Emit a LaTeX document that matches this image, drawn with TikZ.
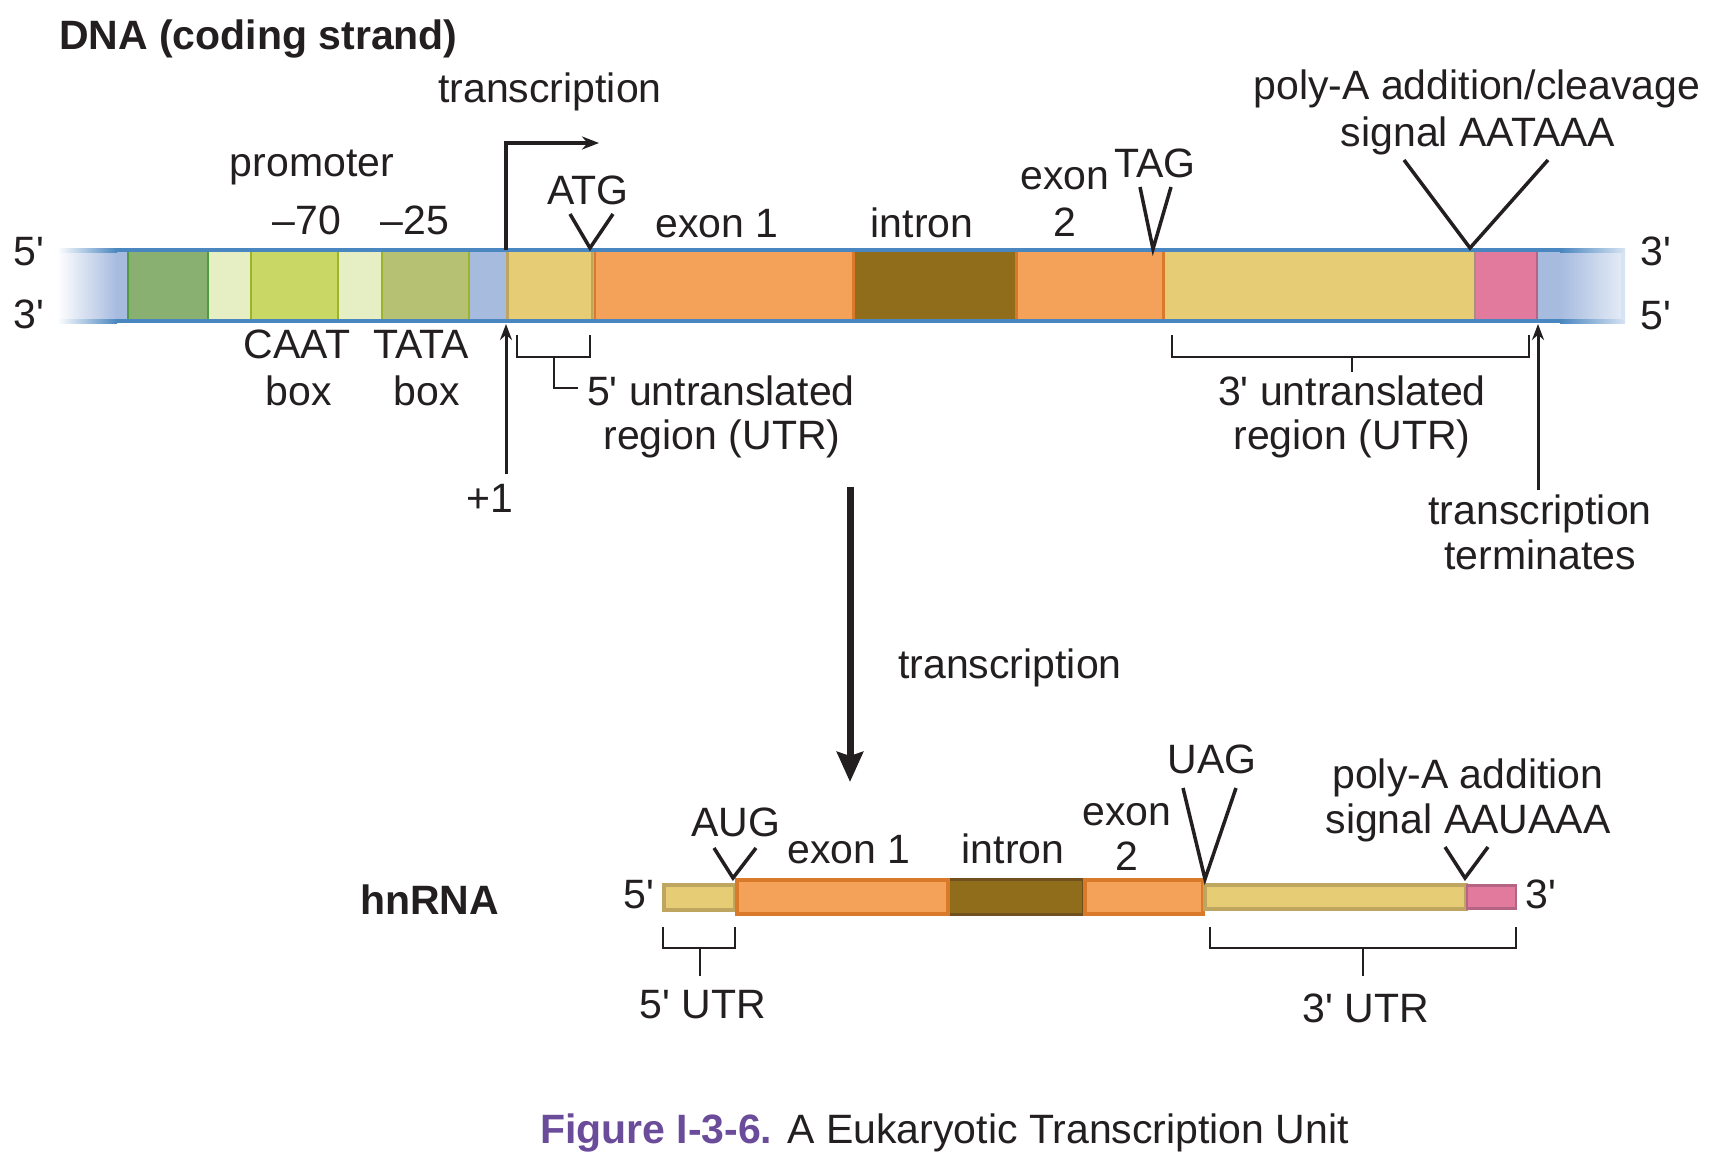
\documentclass[tikz,border=0pt]{standalone}
\usepackage{fontspec}
\setmainfont{Liberation Sans}
\usetikzlibrary{arrows.meta}
\definecolor{txt}{RGB}{35,31,32}
\definecolor{dnablue}{RGB}{167,187,223}
\definecolor{strand}{RGB}{74,134,192}
\definecolor{dnalight}{RGB}{230,237,246}
\definecolor{rimblue}{RGB}{214,227,242}
\definecolor{dkgreen}{RGB}{137,175,113}
\definecolor{dkgreenb}{RGB}{80,155,60}
\definecolor{ltgreen}{RGB}{229,239,195}
\definecolor{caatc}{RGB}{201,215,101}
\definecolor{tatac}{RGB}{182,193,115}
\definecolor{sepc}{RGB}{155,180,42}
\definecolor{utrc}{RGB}{230,205,117}
\definecolor{utrb}{RGB}{190,165,96}
\definecolor{exonc}{RGB}{244,162,89}
\definecolor{exonb}{RGB}{217,122,42}
\definecolor{intronc}{RGB}{144,109,26}
\definecolor{intronb}{RGB}{112,80,30}
\definecolor{pinkc}{RGB}{225,122,156}
\definecolor{pinkb}{RGB}{182,100,132}
\definecolor{figpurple}{RGB}{107,76,154}
\newcommand{\myap}{\textquotesingle}
\begin{document}
\begin{tikzpicture}[x=1pt,y=-1pt,
  every node/.style={inner sep=0pt,outer sep=0pt,text=txt,font=\fontsize{41}{46}\selectfont},
  lbl/.style={anchor=base},
  vmark/.style={draw=txt,line width=3.5pt,line join=miter},
  brk/.style={draw=txt,line width=2pt},
  sep/.style={line width=2pt},
  thinarrow/.style={draw=txt,line width=3pt,-{Stealth[length=16pt,width=12pt]}}]
\useasboundingbox (0,0) rectangle (1727,1158);
\fill[white] (0,0) rectangle (1727,1158);

% ---------------- DNA bar ----------------
\shade[left color=white,right color=dnablue] (57,252) rectangle (117,320);
\fill[dnablue] (117,252) rectangle (1560,320);
\shade[left color=dnablue,right color=dnalight] (1560,252) rectangle (1625,320);
\fill[dkgreen] (128,252) rectangle (208,320);
\fill[ltgreen] (208,252) rectangle (251,320);
\fill[caatc] (251,252) rectangle (338,320);
\fill[ltgreen] (338,252) rectangle (382,320);
\fill[tatac] (382,252) rectangle (469,320);
\fill[utrc] (506,252) rectangle (593,320);
\fill[exonc] (593,252) rectangle (853,320);
\fill[intronc] (853,252) rectangle (1015,320);
\fill[exonc] (1015,252) rectangle (1163,320);
\fill[utrc] (1163,252) rectangle (1475,320);
\fill[pinkc] (1475,252) rectangle (1537,320);
% segment borders
\draw[sep,dkgreenb] (128,252) -- (128,320);
\draw[sep,dkgreenb] (208,252) -- (208,320);
\draw[sep,sepc] (251,252) -- (251,320);
\draw[sep,sepc] (338,252) -- (338,320);
\draw[sep,sepc] (382,252) -- (382,320);
\draw[sep,sepc] (469,252) -- (469,320);
\draw[line width=3pt,utrb] (507,252) -- (507,320);
\draw[sep,utrb] (592,252) -- (592,320);
\draw[sep,exonb] (595,252) -- (595,320);
\draw[line width=3pt,exonb] (853,252) -- (853,320);
\draw[line width=3pt,exonb] (1016,252) -- (1016,320);
\draw[line width=3pt,exonb] (1163,252) -- (1163,320);
\draw[sep,color={rgb,255:red,170;green,140;blue,130}] (1475,252) -- (1475,320);
\draw[sep,pinkb] (1537,252) -- (1537,320);
% strands
\shade[left color=white,right color=strand] (57,248.5) rectangle (117,252.5);
\fill[strand] (117,248.5) rectangle (1560,252.5);
\shade[left color=strand,right color=rimblue] (1560,248.5) rectangle (1625,252.5);
\shade[left color=white,right color=strand] (57,319.5) rectangle (117,323.5);
\fill[strand] (117,319.5) rectangle (1560,323.5);
\shade[left color=strand,right color=rimblue] (1560,319.5) rectangle (1625,323.5);
\fill[rimblue] (1621,252) rectangle (1625,320);

% ---------------- DNA labels ----------------
\node[anchor=base west] (dnalab) at (59,50) {\bfseries DNA (coding strand)};
\node[lbl] (tx1) at (550,103) {transcription};
\node[lbl] (prom) at (312,177) {promoter};
\node[lbl] (m70) at (307,235) {–70};
\node[lbl] (m25) at (415,235) {–25};
\node[lbl] (atg) at (588,205) {ATG};
\node[lbl] (ex1) at (717,238) {exon 1};
\node[lbl] (intr) at (922,238) {intron};
\node[lbl] (ex2a) at (1065,190) {exon};
\node[lbl] (ex2b) at (1065,237) {2};
\node[lbl] (tag) at (1155,178) {TAG};
\node[lbl] (pa1) at (1477,100) {poly-A addition/cleavage};
\node[lbl] (pa2) at (1478,147) {signal AATAAA};
\node[lbl] (l5) at (29,266) {5\myap};
\node[lbl] (l3) at (29,328) {3\myap};
\node[lbl] (r3) at (1656,266) {3\myap};
\node[lbl] (r5) at (1656,330) {5\myap};
\node[lbl] (caat) at (297,359) {CAAT};
\node[lbl] (caatb) at (299,405) {box};
\node[lbl] (tata) at (421,359) {TATA};
\node[lbl] (tatab) at (427,405) {box};
\node[lbl] (u5a) at (721,405) {5\myap{} untranslated};
\node[lbl] (u5b) at (722,449) {region (UTR)};
\node[lbl] (u3a) at (1352,405) {3\myap{} untranslated};
\node[lbl] (u3b) at (1352,449) {region (UTR)};
\node[lbl] (plus1) at (490,512) {+1};
\node[lbl] (tt1) at (1540,524) {transcription};
\node[lbl] (tt2) at (1540,569) {terminates};

% V marks on DNA
\coordinate (atgL) at (570,214); \coordinate (atgT) at (590,248); \coordinate (atgR) at (613,214);
\draw[vmark] (atgL) -- (atgT) -- (atgR);
\coordinate (tagL) at (1140,187); \coordinate (tagT) at (1153,249); \coordinate (tagR) at (1171,187);
\draw[vmark] (tagL) -- (tagT) -- (tagR);
\coordinate (paL) at (1404,160); \coordinate (paT) at (1470,248); \coordinate (paR) at (1548,160);
\draw[vmark] (paL) -- (paT) -- (paR);

% transcription start arrow
\coordinate (tss) at (506,250); \coordinate (tssUp) at (506,143); \coordinate (tssEnd) at (599,143);
\draw[draw=txt,line width=3.5pt,line join=miter,-{Stealth[length=17pt,width=13pt]}] (tss) -- (tssUp) -- (tssEnd);
% +1 and termination arrows
\coordinate (p1a) at (506,474); \coordinate (p1b) at (506,324);
\draw[thinarrow] (p1a) -- (p1b);
\coordinate (tta) at (1538,490); \coordinate (ttb) at (1538,324);
\draw[thinarrow] (tta) -- (ttb);

% brackets DNA
\coordinate (b5a) at (517,335); \coordinate (b5b) at (517,357); \coordinate (b5c) at (590,357); \coordinate (b5d) at (590,335);
\draw[brk] (b5a) -- (b5b) -- (b5c) -- (b5d);
\coordinate (b5s) at (554,357); \coordinate (b5e) at (554,388); \coordinate (b5f) at (578,388);
\draw[brk] (b5s) -- (b5e) -- (b5f);
\coordinate (b3a) at (1172,335); \coordinate (b3b) at (1172,357); \coordinate (b3c) at (1529,357); \coordinate (b3d) at (1529,335);
\draw[brk] (b3a) -- (b3b) -- (b3c) -- (b3d);
\coordinate (b3s) at (1352,357); \coordinate (b3e) at (1352,372);
\draw[brk] (b3s) -- (b3e);

% big transcription arrow
\coordinate (bigA) at (850,487); \coordinate (bigB) at (850,782);
\draw[draw=txt,line width=7pt,-{Stealth[length=30pt,width=26pt,inset=4pt]}] (bigA) -- (bigB);
\node[lbl] (tx2) at (1010,678) {transcription};

% ---------------- hnRNA ----------------
\node[anchor=base west] (hn) at (360,914) {\bfseries hnRNA};
\node[lbl] (r5l) at (639,908) {5\myap};
\node[lbl] (r3r) at (1541,908) {3\myap};
\filldraw[fill=utrc,draw=utrb,line width=4pt] (664,885) rectangle (735,910);
\filldraw[fill=intronc,draw=intronb,line width=3pt] (948,879.5) rectangle (1083,914.5);
\filldraw[fill=exonc,draw=exonb,line width=4pt] (737,880) rectangle (948,914);
\filldraw[fill=exonc,draw=exonb,line width=4pt] (1085,880) rectangle (1203,914);
\filldraw[fill=utrc,draw=utrb,line width=4pt] (1205,885) rectangle (1466,909);
\filldraw[fill=pinkc,draw=pinkb,line width=2.5pt] (1467,885.5) rectangle (1516,908.5);

\node[lbl] (aug) at (736,836) {AUG};
\node[lbl] (rex1) at (849,863) {exon 1};
\node[lbl] (rintr) at (1013,863) {intron};
\node[lbl] (rex2a) at (1127,825) {exon};
\node[lbl] (rex2b) at (1127,870) {2};
\node[lbl] (uag) at (1212,773) {UAG};
\node[lbl] (rpa1) at (1468,788) {poly-A addition};
\node[lbl] (rpa2) at (1468,833) {signal AAUAAA};

\coordinate (augL) at (714,848); \coordinate (augT) at (733,878); \coordinate (augR) at (756,848);
\draw[vmark] (augL) -- (augT) -- (augR);
\coordinate (uagL) at (1183,788); \coordinate (uagT) at (1205,879); \coordinate (uagR) at (1236,788);
\draw[vmark] (uagL) -- (uagT) -- (uagR);
\coordinate (rpaL) at (1445,847); \coordinate (rpaT) at (1465,878); \coordinate (rpaR) at (1488,847);
\draw[vmark] (rpaL) -- (rpaT) -- (rpaR);

\coordinate (c5a) at (663,927); \coordinate (c5b) at (663,948); \coordinate (c5c) at (735,948); \coordinate (c5d) at (735,927);
\draw[brk] (c5a) -- (c5b) -- (c5c) -- (c5d);
\coordinate (c5s) at (700,948); \coordinate (c5e) at (700,976);
\draw[brk] (c5s) -- (c5e);
\coordinate (c3a) at (1210,927); \coordinate (c3b) at (1210,948); \coordinate (c3c) at (1516,948); \coordinate (c3d) at (1516,927);
\draw[brk] (c3a) -- (c3b) -- (c3c) -- (c3d);
\coordinate (c3s) at (1363,948); \coordinate (c3e) at (1363,976);
\draw[brk] (c3s) -- (c3e);
\node[lbl] (rutr5) at (703,1018) {5\myap{} UTR};
\node[lbl] (rutr3) at (1366,1022) {3\myap{} UTR};

% caption
\node[anchor=base west] (cap) at (540,1143) {\textcolor{figpurple}{\bfseries Figure I-3-6.} A Eukaryotic Transcription Unit};
\end{tikzpicture}
\end{document}
